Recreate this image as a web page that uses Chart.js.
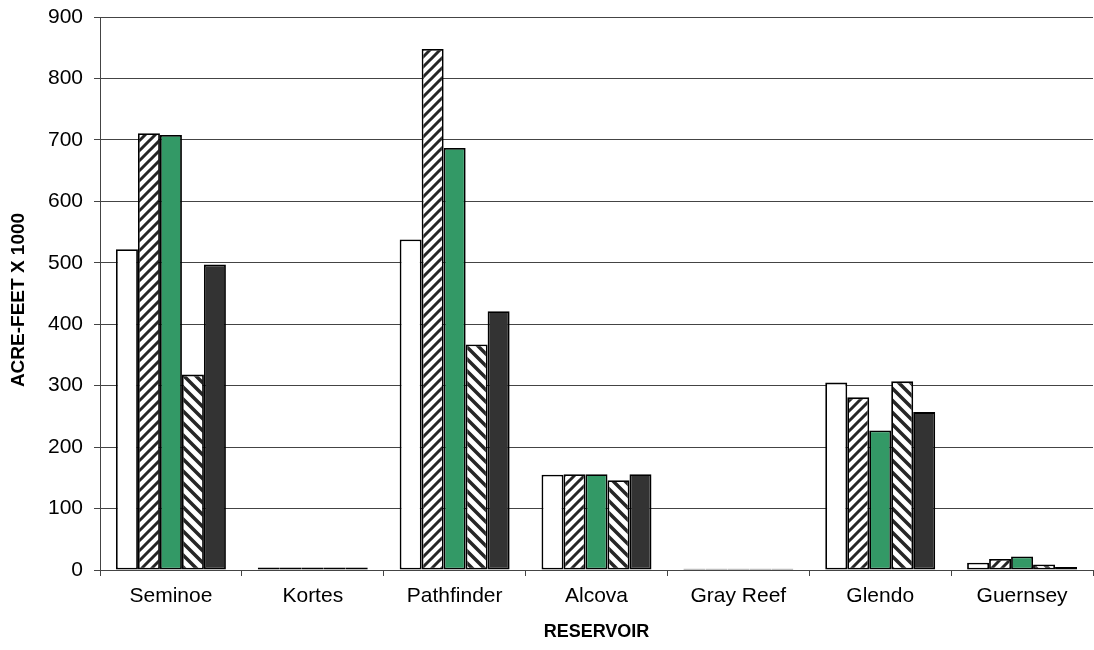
<!DOCTYPE html>
<html>
<head>
<meta charset="utf-8">
<script src="https://cdn.jsdelivr.net/npm/chart.js@4/dist/chart.umd.min.js"></script>
<style>
  html, body { margin: 0; padding: 0; background: #fff; }
  #wrap { width: 1094px; height: 650px; }
</style>
</head>
<body>
<div id="wrap"><canvas id="chart" width="1094" height="650"></canvas></div>
<script>
const reservoirs = ['Seminoe', 'Kortes', 'Pathfinder', 'Alcova', 'Gray Reef', 'Glendo', 'Guernsey'];
const series1 = [522, 4, 538, 155, 2, 305, 12];
const series2 = [711, 4, 848, 156, 2, 281, 18];
const series3 = [708, 4, 687, 156, 2, 227, 22];
const series4 = [318, 4, 367, 146, 2, 307, 9];
const series5 = [497, 4, 421, 156, 2, 257, 5];
const yTicks = [0, 100, 200, 300, 400, 500, 600, 700, 800, 900];
const yTitle = 'ACRE-FEET X 1000';
const xTitle = 'RESERVOIR';

function hatch(dir, s, w) {
  const c = document.createElement('canvas');
  c.width = s; c.height = s;
  const g = c.getContext('2d');
  g.fillStyle = '#fff';
  g.fillRect(0, 0, s, s);
  g.strokeStyle = '#262626';
  g.lineWidth = w;
  g.beginPath();
  if (dir > 0) {
    g.moveTo(-s, s * 2); g.lineTo(s * 2, -s);
    g.moveTo(-s, s); g.lineTo(s, -s);
    g.moveTo(0, s * 2); g.lineTo(s * 2, 0);
  } else {
    g.moveTo(-s, -s); g.lineTo(s * 2, s * 2);
    g.moveTo(-s, 0); g.lineTo(s, s * 2);
    g.moveTo(0, -s); g.lineTo(s * 2, s);
  }
  g.stroke();
  return g.createPattern(c, 'repeat');
}

const font = 'Arial, "Liberation Sans", sans-serif';
const common = { borderColor: '#000', borderWidth: 1.8, borderSkipped: false, categoryPercentage: 0.775, barPercentage: 1.0 };

// y title drawn by hand so it can sit a little below the plot middle
const yTitlePlugin = {
  id: 'yTitle',
  afterDraw(chart) {
    const ctx = chart.ctx;
    ctx.save();
    ctx.translate(19, 300);
    ctx.rotate(-Math.PI / 2);
    ctx.font = 'bold 19px ' + font;
    ctx.fillStyle = '#000';
    ctx.textAlign = 'center';
    ctx.textBaseline = 'middle';
    ctx.fillText(yTitle, 0, 0);
    ctx.restore();
  }
};

new Chart(document.getElementById('chart').getContext('2d'), {
  type: 'bar',
  data: {
    labels: reservoirs,
    datasets: [
      Object.assign({ label: 'A', data: series1, backgroundColor: '#ffffff' }, common),
      Object.assign({ label: 'B', data: series2, backgroundColor: hatch(1, 10, 3) }, common),
      Object.assign({ label: 'C', data: series3, backgroundColor: '#339966' }, common),
      Object.assign({ label: 'D', data: series4, backgroundColor: hatch(-1, 12, 3.5) }, common),
      Object.assign({ label: 'E', data: series5, backgroundColor: '#333333' }, common)
    ]
  },
  plugins: [yTitlePlugin],
  options: {
    responsive: false,
    animation: false,
    layout: { padding: { top: 17, right: 1, left: 0, bottom: 0 } },
    plugins: { legend: { display: false }, tooltip: { enabled: false } },
    scales: {
      x: {
        offset: true,
        afterFit: (axis) => { axis.height = 80; axis.paddingLeft = 0; axis.paddingRight = 0; },
        grid: { display: true, drawOnChartArea: false, drawTicks: true, tickLength: 6, color: '#444', offset: true },
        border: { display: true, color: '#444', width: 1 },
        ticks: { color: '#000', font: { family: font, size: 21 }, padding: 8, maxRotation: 0 },
        title: { display: true, text: xTitle, color: '#000', font: { family: font, size: 18, weight: 'bold' }, padding: { top: 0, bottom: 7 } }
      },
      y: {
        min: 0, max: 900,
        afterFit: (axis) => { axis.width = 100; axis.paddingTop = 0; axis.paddingBottom = 0; },
        afterBuildTicks: (axis) => { axis.ticks = yTicks.map(v => ({ value: v })); },
        grid: { color: '#444', lineWidth: 1, tickLength: 6 },
        border: { display: true, color: '#444', width: 1 },
        ticks: { color: '#000', font: { family: font, size: 21 }, padding: 11 },
        title: { display: false }
      }
    }
  }
});
</script>
</body>
</html>
